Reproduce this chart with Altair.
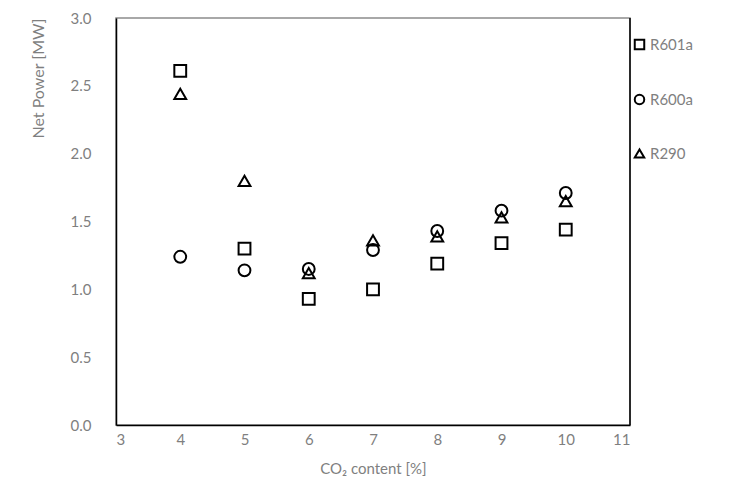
import altair as alt
import pandas as pd

co2 = [4, 5, 6, 7, 8, 9, 10]
r601a = [2.61, 1.30, 0.93, 1.00, 1.19, 1.34, 1.44]
r600a = [1.24, 1.14, 1.15, 1.29, 1.43, 1.58, 1.71]
r290 = [2.44, 1.80, 1.12, 1.36, 1.39, 1.53, 1.65]
series = ["R601a", "R600a", "R290"]

rows = []
for name, vals in zip(series, [r601a, r600a, r290]):
    for x, y in zip(co2, vals):
        rows.append({"co2": x, "power": y, "fluid": name})
df = pd.DataFrame(rows)

FONT = "Lato"
GRAY = "#7f7f7f"

points = alt.Chart(df).mark_point(
    filled=False, color="black", strokeWidth=2, size=140, opacity=1
).encode(
    x=alt.X("co2:Q", scale=alt.Scale(domain=[3, 11], nice=False),
            axis=alt.Axis(values=list(range(3, 12)), format="d", title="CO₂ content [%]",
                          grid=False, ticks=False, domainColor="black", domainWidth=1.5,
                          labelColor=GRAY, labelFontSize=15, labelFont=FONT, labelPadding=7,
                          titleColor=GRAY, titleFontSize=15, titleFont=FONT, titleFontWeight="normal",
                          titlePadding=14)),
    y=alt.Y("power:Q", scale=alt.Scale(domain=[0, 3], nice=False),
            axis=alt.Axis(values=[0, 0.5, 1.0, 1.5, 2.0, 2.5, 3.0], format=".1f",
                          title="Net Power [MW]", titleAnchor="end",
                          grid=False, ticks=False, domainColor="black", domainWidth=1.5,
                          labelColor=GRAY, labelFontSize=15, labelFont=FONT, labelPadding=25,
                          titleColor=GRAY, titleFontSize=16, titleFont=FONT, titleFontWeight="normal",
                          titlePadding=24)),
    shape=alt.Shape("fluid:N", scale=alt.Scale(domain=series, range=["square", "circle", "triangle-up"]),
                    legend=alt.Legend(title=None, orient="none", legendX=516, legendY=19,
                                      symbolStrokeColor="black", symbolFillColor="white",
                                      symbolStrokeWidth=2, symbolSize=90, rowPadding=36,
                                      labelColor=GRAY, labelFontSize=15, labelFont=FONT,
                                      labelOffset=3)),
)

right = alt.Chart(pd.DataFrame({"x": [11]})).mark_rule(color="black", strokeWidth=1.5).encode(
    x=alt.value(514), y=alt.value(0), y2=alt.value(407)
)

chart = alt.layer(points, right).properties(
    width=514, height=407,
    autosize=alt.AutoSizeParams(type="none"),
    padding={"left": 108, "top": 10, "right": 105, "bottom": 68},
).configure_view(stroke="#8c8c8c", strokeWidth=1.5)

chart.save("out.html", embed_options={"renderer": "svg", "actions": False})
